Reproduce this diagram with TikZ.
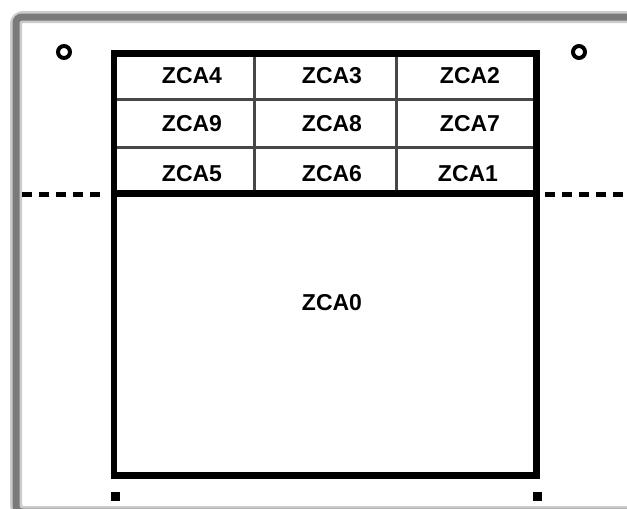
\documentclass[tikz,border=0pt]{standalone}
\usepackage{fontspec}
\setmainfont{Liberation Sans}
\begin{document}
\begin{tikzpicture}[x=1pt,y=-1pt,
  lbl/.style={font=\fontsize{23}{25}\selectfont\bfseries, inner sep=0pt, anchor=center},
  heavy/.style={line width=6.5pt, line cap=rect, black},
  cellrule/.style={line width=3.5pt, draw=black!72},
  frameshadow/.style={line width=12pt, draw=black!20, rounded corners=7pt},
  frameline/.style={line width=7pt, draw=black!52, rounded corners=6pt},
  hole/.style={line width=4pt, draw=black},
  pin/.style={fill=black},
  cut/.style={line width=4.5pt, dash pattern=on 10pt off 7pt}]
\useasboundingbox (0,0) rectangle (627,509);
\clip (0,0) rectangle (627,509);

% panel frame with soft edge
\draw[frameshadow] (16,17) rectangle (660,512);
\draw[frameline] (16,17) rectangle (660,512);

% mounting holes
\node[circle, hole, minimum size=12pt, inner sep=0pt] (holeL) at (64,52) {};
\node[circle, hole, minimum size=12pt, inner sep=0pt] (holeR) at (579,52) {};

% inner cell rules
\draw[cellrule] (114,99.5) -- (537,99.5);
\draw[cellrule] (114,147.5) -- (537,147.5);
\draw[cellrule] (254.5,53.5) -- (254.5,193.5);
\draw[cellrule] (396.5,53.5) -- (396.5,193.5);

% outer box and divider
\draw[heavy] (114,53.5) rectangle (536.5,475.5);
\draw[heavy] (114,193.5) -- (536.5,193.5);

% cut lines
\coordinate (cutL1) at (22,194.5);
\coordinate (cutL2) at (100,194.5);
\coordinate (cutR1) at (545,194.5);
\coordinate (cutR2) at (625,194.5);
\draw[cut] (cutL1) -- (cutL2);
\draw[cut] (cutR1) -- (cutR2);

% corner marks
\node[pin, minimum size=9pt, inner sep=0pt] (markL) at (115,496) {};
\node[pin, minimum size=9pt, inner sep=0pt] (markR) at (537,496) {};

% zone labels
\node[lbl] (zca4) at (192,76) {ZCA4};
\node[lbl] (zca3) at (332,76) {ZCA3};
\node[lbl] (zca2) at (470,76) {ZCA2};
\node[lbl] (zca9) at (192,124) {ZCA9};
\node[lbl] (zca8) at (332,124) {ZCA8};
\node[lbl] (zca7) at (470,124) {ZCA7};
\node[lbl] (zca5) at (192,174) {ZCA5};
\node[lbl] (zca6) at (332,174) {ZCA6};
\node[lbl] (zca1) at (468,174) {ZCA1};
\node[lbl] (zca0) at (332,302.5) {ZCA0};
\end{tikzpicture}
\end{document}
